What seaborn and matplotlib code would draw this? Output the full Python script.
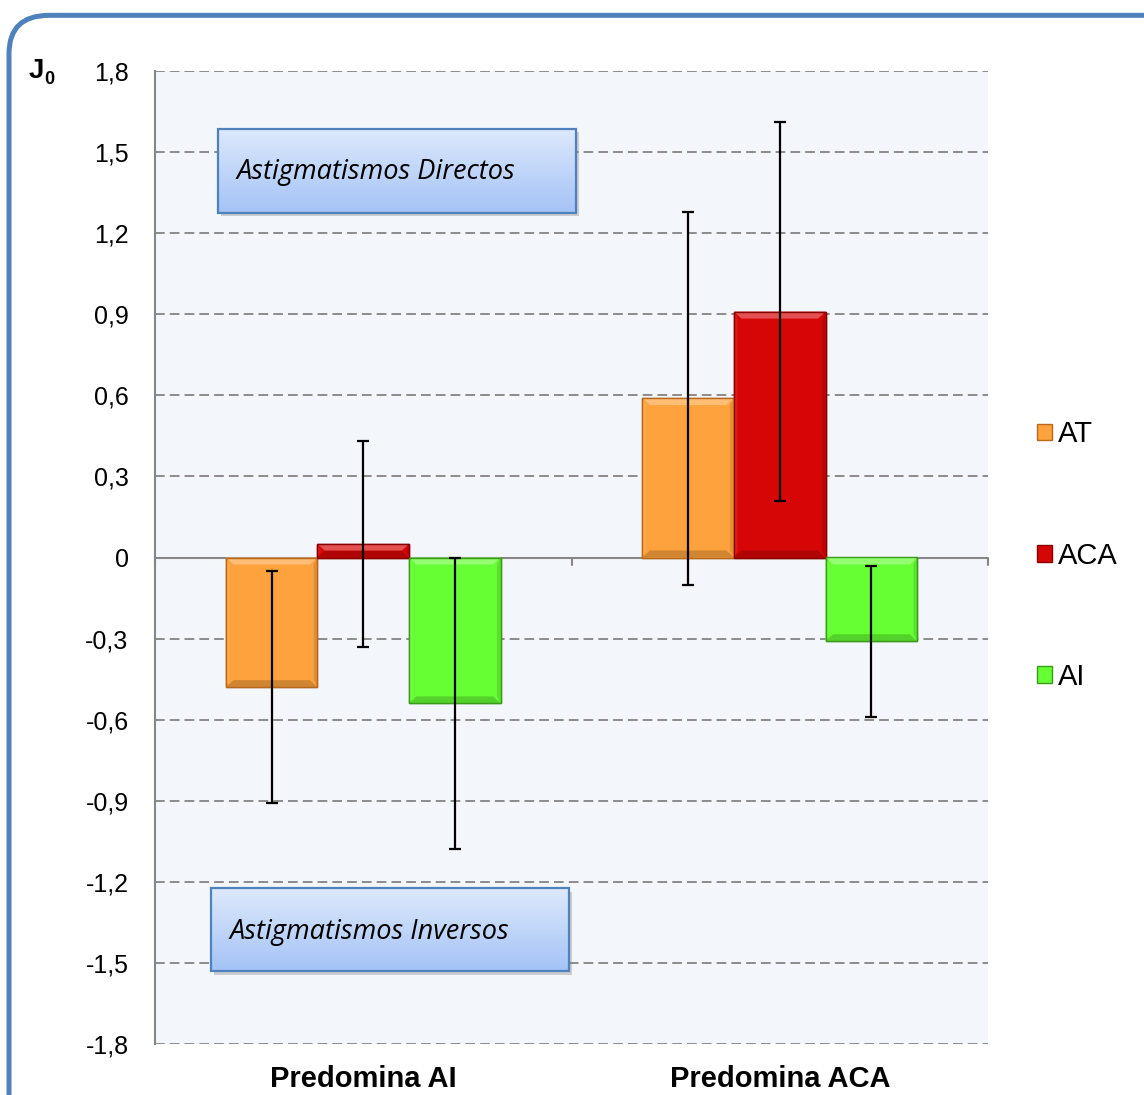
import numpy as np
import pandas as pd
import matplotlib
matplotlib.use("Agg")
import matplotlib.pyplot as plt
import seaborn as sns
from matplotlib.patches import FancyBboxPatch, Rectangle, Patch, Polygon

# ---- data -------------------------------------------------------------
groups = ["Predomina AI", "Predomina ACA"]
series = ["AT", "ACA", "AI"]
at_mean = [-0.48, 0.59]
aca_mean = [0.05, 0.91]
ai_mean = [-0.54, -0.31]
at_err = [0.43, 0.69]
aca_err = [0.38, 0.70]
ai_err = [0.54, 0.28]
y_ticks = [-1.8, -1.5, -1.2, -0.9, -0.6, -0.3, 0.0, 0.3, 0.6, 0.9, 1.2, 1.5, 1.8]
y_tick_labels = ["-1,8", "-1,5", "-1,2", "-0,9", "-0,6", "-0,3", "0",
                 "0,3", "0,6", "0,9", "1,2", "1,5", "1,8"]
box_top_text = "Astigmatismos Directos"
box_bottom_text = "Astigmatismos Inversos"

colors = {"AT": "#FDA23C", "ACA": "#D70606", "AI": "#66FF33"}
edges = {"AT": "#B8681C", "ACA": "#8A0000", "AI": "#3A9A1A"}

means = {"AT": at_mean, "ACA": aca_mean, "AI": ai_mean}
errs = {"AT": at_err, "ACA": aca_err, "AI": ai_err}

df = pd.DataFrame({
    "grupo": [g for s in series for g in groups],
    "serie": [s for s in series for g in groups],
    "J0": [m for s in series for m in means[s]],
    "err": [e for s in series for e in errs[s]],
})

# ---- figure -------------------------------------------------------------
sns.set_style("white")
plt.rcParams["font.family"] = ["Liberation Sans", "DejaVu Sans"]
plt.rcParams["text.color"] = "black"
plt.rcParams["xtick.labelcolor"] = "black"
plt.rcParams["ytick.labelcolor"] = "black"

fig = plt.figure(figsize=(11.44, 10.95), dpi=100)
ax = fig.add_axes([155 / 1144, 1 - 1044 / 1095, 833 / 1144, 973 / 1095])
ax.set_facecolor("#F3F6FB")

sns.barplot(data=df, x="grupo", y="J0", hue="serie", order=groups,
            hue_order=series, palette=colors, width=0.66, errorbar=None,
            saturation=1, legend=False, ax=ax, zorder=3)


def shade(rgb, f):
    rgb = np.array(matplotlib.colors.to_rgb(rgb))
    if f >= 0:
        return tuple(rgb + (1 - rgb) * f)
    return tuple(rgb * (1 + f))


# bevelled look: light upper rim, darker lower/right rims
bx, by = 0.018, 0.026
for s_i, s in enumerate(series):
    for g_i, g in enumerate(groups):
        patch = ax.patches[s_i * len(groups) + g_i]
        patch.set_edgecolor(edges[s])
        patch.set_linewidth(1.0)
        x0 = patch.get_x()
        x1 = x0 + patch.get_width()
        ya, yb = sorted([patch.get_y(), patch.get_y() + patch.get_height()])
        dy = min(by, (yb - ya) / 2)
        base = colors[s]
        # top rim
        ax.add_patch(Polygon([(x0, yb), (x1, yb), (x1 - bx, yb - dy), (x0 + bx, yb - dy)],
                             closed=True, facecolor=shade(base, 0.3), edgecolor="none", zorder=3.5))
        # bottom rim
        ax.add_patch(Polygon([(x0, ya), (x1, ya), (x1 - bx, ya + dy), (x0 + bx, ya + dy)],
                             closed=True, facecolor=shade(base, -0.18), edgecolor="none", zorder=3.5))
        # right rim
        ax.add_patch(Polygon([(x1, ya), (x1, yb), (x1 - bx * 0.5, yb - dy), (x1 - bx * 0.5, ya + dy)],
                             closed=True, facecolor=shade(base, -0.12), edgecolor="none", zorder=3.5))
        # left rim
        ax.add_patch(Polygon([(x0, ya), (x0, yb), (x0 + bx * 0.5, yb - dy), (x0 + bx * 0.5, ya + dy)],
                             closed=True, facecolor=shade(base, 0.08), edgecolor="none", zorder=3.5))
        # outline on top of the rims
        ax.add_patch(Rectangle((x0, ya), x1 - x0, yb - ya, facecolor="none",
                               edgecolor=edges[s], linewidth=1.0, zorder=3.6))

# error bars at the bar centres
for s_i, s in enumerate(series):
    for g_i, g in enumerate(groups):
        row = df[(df["serie"] == s) & (df["grupo"] == g)].iloc[0]
        patch = ax.patches[s_i * len(groups) + g_i]
        xc = patch.get_x() + patch.get_width() / 2
        ax.errorbar(xc, row["J0"], yerr=row["err"], fmt="none", ecolor="black",
                    elinewidth=1.6, capsize=4.5, capthick=1.6, zorder=5)

# ---- axes styling -------------------------------------------------------
ax.set_xlim(-0.5, 1.5)
ax.set_ylim(-1.8, 1.8)
ax.set_yticks(y_ticks)
ax.set_yticklabels(y_tick_labels, fontsize=18)
ax.yaxis.grid(True, color="#8C8C8C", linestyle=(0, (5, 2.6)), linewidth=1.4, zorder=0)
ax.xaxis.grid(False)
ax.set_axisbelow(True)
for side in ["top", "right", "bottom"]:
    ax.spines[side].set_visible(False)
ax.spines["left"].set_color("#868686")
ax.spines["left"].set_linewidth(1.5)
ax.tick_params(axis="y", direction="out", length=7, width=1.5, color="#868686", pad=12)
ax.set_xticks([0, 1])
ax.set_xticklabels(groups, fontsize=21, fontweight="bold")
ax.tick_params(axis="x", length=0, pad=15)
ax.set_xlabel("")
ax.set_ylabel("")

# zero axis with category separators
ax.axhline(0, color="#868686", linewidth=1.5, zorder=2)
for xb in [-0.5, 0.5, 1.5]:
    ax.plot([xb, xb], [0, -0.026], color="#868686", linewidth=1.5, zorder=2,
            clip_on=False)

# ---- annotation boxes ---------------------------------------------------
grad = np.linspace(0, 1, 100).reshape(-1, 1)
top_c = np.array(matplotlib.colors.to_rgb("#DDE9FC"))
bot_c = np.array(matplotlib.colors.to_rgb("#A4C3F6"))
grad_img = top_c[None, None, :] * (1 - grad[..., None]) + bot_c[None, None, :] * grad[..., None]


def note_box(x0, x1, y0, y1, text, tx, ty):
    ax.add_patch(Rectangle((x0 + 0.008, y0 - 0.013), x1 - x0, y1 - y0,
                           facecolor="#808080", alpha=0.35, edgecolor="none", zorder=6))
    ax.imshow(grad_img, extent=(x0, x1, y0, y1), aspect="auto", zorder=7,
              interpolation="bilinear")
    ax.add_patch(Rectangle((x0, y0), x1 - x0, y1 - y0, facecolor="none",
                           edgecolor="#4F81BD", linewidth=1.6, zorder=8))
    ax.text(tx, ty, text, fontsize=19.5, style="italic", family=["Open Sans", "DejaVu Sans"],
            va="center", ha="left", zorder=9)


note_box(-0.349, 0.511, 1.276, 1.587, box_top_text, -0.305, 1.428)
note_box(-0.366, 0.494, -1.531, -1.224, box_bottom_text, -0.322, -1.385)
ax.set_xlim(-0.5, 1.5)
ax.set_ylim(-1.8, 1.8)

# ---- legend -------------------------------------------------------------
handles = [Patch(facecolor=colors[s], edgecolor=edges[s], label=s) for s in series]
ax.legend(handles=handles, loc="center left", bbox_to_anchor=(1.045, 0.502),
          frameon=False, fontsize=21, handlelength=0.5, handleheight=0.5,
          handletextpad=0.2, labelspacing=3.2, borderaxespad=0)

# ---- axis title J0 ------------------------------------------------------
fig.text(29 / 1144, 1 - 71 / 1095, "J", fontsize=20, fontweight="bold", va="center")
fig.text(44 / 1144, 1 - 79 / 1095, "0", fontsize=13, fontweight="bold", va="center")

# ---- rounded frame ------------------------------------------------------
frame = FancyBboxPatch((9 / 1144, -0.06), 1.05, 0.986 + 0.06,
                       boxstyle="round,pad=0,rounding_size=0.035",
                       transform=fig.transFigure, facecolor="none",
                       edgecolor="#4F81BD", linewidth=3.6, clip_on=False)
fig.add_artist(frame)

fig.savefig("out.png", dpi=100, facecolor="white")
